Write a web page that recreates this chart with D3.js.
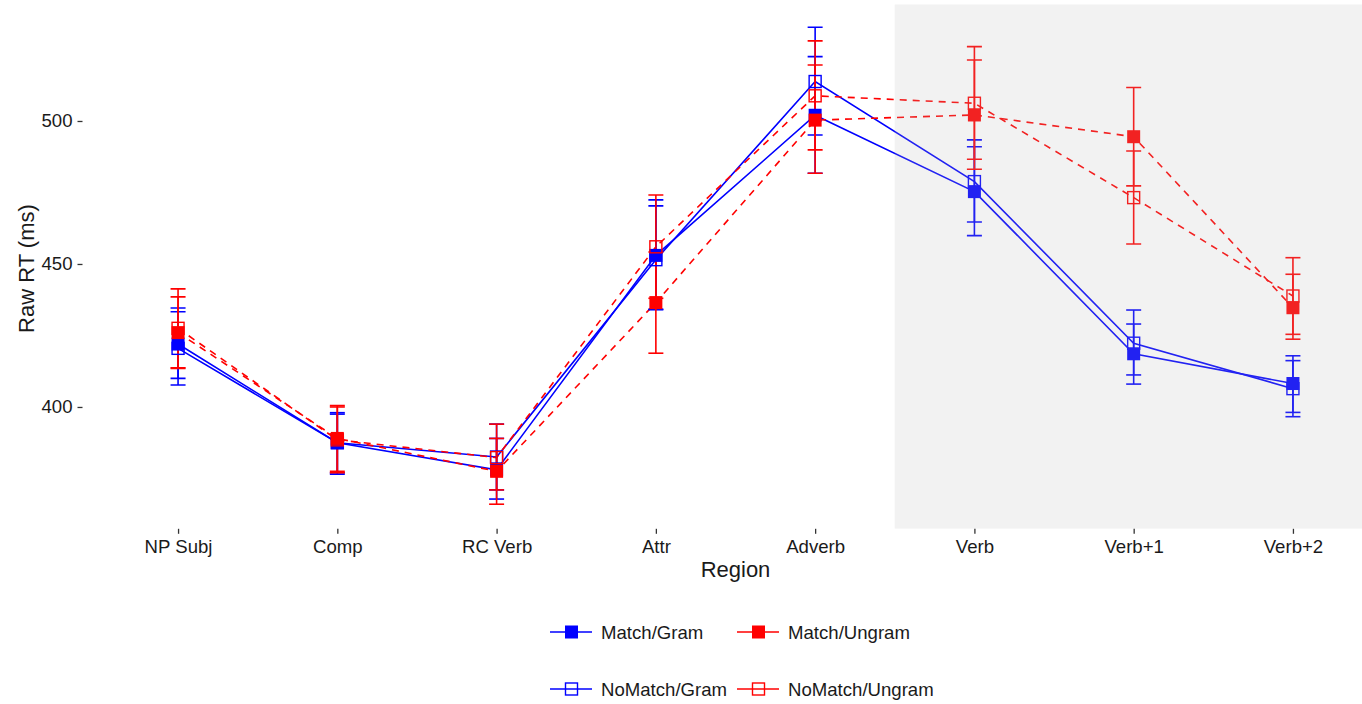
<!DOCTYPE html>
<html>
<head>
<meta charset="utf-8">
<script src="https://cdn.jsdelivr.net/npm/d3@7"></script>
<style>
  body { margin: 0; background: #fff; }
  svg { display: block; font-family: "Liberation Sans", Arial, sans-serif; }
</style>
</head>
<body>
<script>
// regions on the x axis
const regions = ["NP Subj", "Comp", "RC Verb", "Attr", "Adverb", "Verb", "Verb+1", "Verb+2"];

// condition means (raw RT, ms) and error bar ends
const matchGram     = [422.0, 387.5, 378.0, 453.0, 502.0, 475.3, 418.6, 408.2];
const matchGramLo   = [410.0, 377.0, 367.8, 434.2, 481.7, 459.9, 408.0, 398.1];
const matchGramHi   = [433.3, 397.5, 389.0, 472.4, 522.5, 491.0, 429.0, 417.9];

const noMatchGram   = [420.5, 387.5, 382.5, 451.5, 513.8, 478.8, 422.3, 406.4];
const noMatchGramLo = [407.7, 376.5, 371.0, 434.0, 495.1, 464.7, 411.2, 396.6];
const noMatchGramHi = [434.6, 398.0, 394.0, 470.3, 532.8, 493.4, 433.9, 416.2];

const matchUngram     = [426.0, 389.0, 377.5, 436.5, 500.3, 502.1, 494.5, 434.7];
const matchUngramLo   = [413.5, 377.5, 366.0, 418.8, 481.7, 483.1, 477.3, 423.7];
const matchUngramHi   = [438.5, 400.5, 389.0, 454.2, 519.6, 521.3, 511.7, 446.4];

const noMatchUngram   = [427.5, 388.5, 382.3, 456.0, 508.8, 506.2, 473.2, 438.8];
const noMatchUngramLo = [413.7, 377.0, 371.0, 438.0, 489.9, 486.6, 457.0, 425.4];
const noMatchUngramHi = [441.3, 400.0, 394.0, 474.1, 528.0, 526.0, 489.5, 452.2];

const yTicks = [400, 450, 500];

const series = [
  {name: "Match/Gram",     mean: matchGram,     lo: matchGramLo,     hi: matchGramHi,     color: "#0000ff", dash: null,  filled: true},
  {name: "NoMatch/Gram",   mean: noMatchGram,   lo: noMatchGramLo,   hi: noMatchGramHi,   color: "#0000ff", dash: null,  filled: false},
  {name: "Match/Ungram",   mean: matchUngram,   lo: matchUngramLo,   hi: matchUngramHi,   color: "#ff0000", dash: "7,6", filled: true},
  {name: "NoMatch/Ungram", mean: noMatchUngram, lo: noMatchUngramLo, hi: noMatchUngramHi, color: "#ff0000", dash: "7,6", filled: false}
];
// legend is filled row by row
const legendOrder = ["Match/Gram", "Match/Ungram", "NoMatch/Gram", "NoMatch/Ungram"];

const W = 1362, H = 704;
const panel = {left: 82.5, right: 1388.5, top: 4.3, bottom: 528.8};
const fontSm = "18.6px", fontLg = "22px";

const svg = d3.select("body").append("svg").attr("width", W).attr("height", H);

const x = d3.scalePoint().domain(regions).range([panel.left, panel.right]).padding(0.6);
const y = d3.scaleLinear().domain([357.4, 540.8]).range([panel.bottom, panel.top]);

svg.append("defs").append("clipPath").attr("id", "clip")
  .append("rect").attr("x", panel.left).attr("y", panel.top)
  .attr("width", W - panel.left).attr("height", panel.bottom - panel.top);

const plot = svg.append("g").attr("clip-path", "url(#clip)");

// lines
const line = d3.line().x((d, i) => x(regions[i])).y(d => y(d));
series.forEach(s => {
  plot.append("path")
    .attr("d", line(s.mean))
    .attr("fill", "none")
    .attr("stroke", s.color)
    .attr("stroke-width", 1.6)
    .attr("stroke-dasharray", s.dash);
});

// error bars
const capW = 7.5;
series.forEach(s => {
  const g = plot.append("g").attr("stroke", s.color).attr("stroke-width", 1.6).attr("fill", "none");
  regions.forEach((r, i) => {
    const cx = x(r);
    g.append("line").attr("x1", cx).attr("x2", cx).attr("y1", y(s.lo[i])).attr("y2", y(s.hi[i]));
    g.append("line").attr("x1", cx - capW).attr("x2", cx + capW).attr("y1", y(s.lo[i])).attr("y2", y(s.lo[i]));
    g.append("line").attr("x1", cx - capW).attr("x2", cx + capW).attr("y1", y(s.hi[i])).attr("y2", y(s.hi[i]));
  });
});

// points
function drawSquare(g, cx, cy, s) {
  if (s.filled) {
    g.append("rect").attr("x", cx - 6.5).attr("y", cy - 6.5).attr("width", 13).attr("height", 13)
      .attr("fill", s.color);
  } else {
    g.append("rect").attr("x", cx - 6).attr("y", cy - 6).attr("width", 12).attr("height", 12)
      .attr("fill", "none").attr("stroke", s.color).attr("stroke-width", 1.4);
  }
}
series.forEach(s => {
  const g = plot.append("g");
  s.mean.forEach((v, i) => drawSquare(g, x(regions[i]), y(v), s));
});

// shaded critical region, drawn over the data
const shadeStart = (x("Adverb") + x("Verb")) / 2;
plot.append("rect")
  .attr("x", shadeStart).attr("y", panel.top)
  .attr("width", W - shadeStart).attr("height", panel.bottom - panel.top)
  .attr("fill", "rgb(185,185,185)").attr("fill-opacity", 0.184);

// axes
const textCol = "#1a1a1a";
const xAxis = svg.append("g").attr("transform", `translate(0,${panel.bottom})`)
  .call(d3.axisBottom(x).tickSize(5).tickPadding(3));
const yAxis = svg.append("g").attr("transform", `translate(${panel.left},0)`)
  .call(d3.axisLeft(y).tickValues(yTicks).tickSize(5).tickPadding(5));
[xAxis, yAxis].forEach(a => {
  a.select(".domain").remove();
  a.selectAll(".tick line").attr("stroke", "#333").attr("stroke-width", 1.3);
  a.selectAll(".tick text").attr("fill", textCol).style("font-size", fontSm)
    .style("font-family", "'Liberation Sans', Arial, sans-serif");
});
xAxis.selectAll(".tick text").attr("dy", "0.88em");

svg.append("text").attr("x", 735.5).attr("y", 577)
  .attr("text-anchor", "middle").attr("fill", textCol).style("font-size", fontLg).text("Region");
svg.append("text").attr("transform", `translate(34,${(panel.top + panel.bottom) / 2 + 2}) rotate(-90)`)
  .attr("text-anchor", "middle").attr("fill", textCol).style("font-size", fontLg).text("Raw RT (ms)");

// legend
const legX = [550, 737], legY = [632, 689];
legendOrder.forEach((name, k) => {
  const s = series.find(d => d.name === name);
  const lx = legX[k % 2], ly = legY[Math.floor(k / 2)];
  const g = svg.append("g");
  g.append("line").attr("x1", lx).attr("x2", lx + 42).attr("y1", ly).attr("y2", ly)
    .attr("stroke", s.color).attr("stroke-width", 1.6);
  drawSquare(g, lx + 21.5, ly, s);
  g.append("text").attr("x", lx + 51).attr("y", ly).attr("dy", "0.35em")
    .attr("fill", textCol).style("font-size", fontSm).text(name);
});
</script>
</body>
</html>
